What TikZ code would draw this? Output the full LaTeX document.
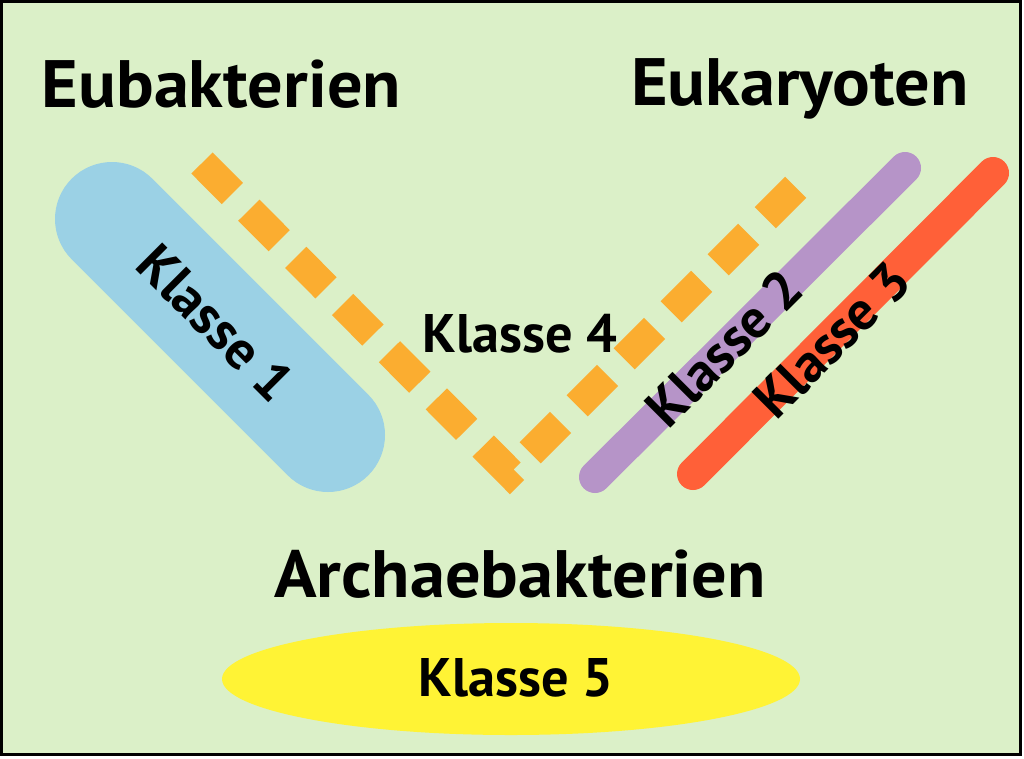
\documentclass[tikz,border=0pt]{standalone}
\usepackage{fontspec}
\setmainfont{PT Sans}
\definecolor{bg}{RGB}{219,240,200}
\definecolor{cblue}{RGB}{155,209,229}
\definecolor{corange}{RGB}{251,173,48}
\definecolor{cpurple}{RGB}{182,148,200}
\definecolor{cred}{RGB}{255,96,56}
\definecolor{cyellow}{RGB}{255,243,53}
\begin{document}
\begin{tikzpicture}[x=1pt,y=-1pt,
  title/.style={font=\fontsize{67}{72}\selectfont\bfseries, inner sep=0pt, anchor=base, xscale=1.05},
  klasse/.style={font=\fontsize{54.3}{60}\selectfont\bfseries, inner sep=0pt},
  band/.style={line cap=round, line width=32}]
\useasboundingbox (0,0) rectangle (1024,758);
\fill[white] (0,0) rectangle (1024,758);
\draw[line width=3, fill=bg] (1.5,1.5) rectangle (1020.5,754.5);
% Klasse 5 ellipse
\fill[cyellow] (511,679) ellipse [x radius=289, y radius=56];
% Klasse 1 capsule
\coordinate (k1a) at (112,219);
\coordinate (k1b) at (328,435);
\draw[cblue, line cap=round, line width=114] (k1a) -- (k1b);
% Klasse 4 dashed V
\coordinate (k4a) at (202,163);
\coordinate (k4c) at (510,473);
\coordinate (k4b) at (797,186);
\draw[corange, line width=30, dash pattern=on 43 off 23.5, line join=miter] (k4a) -- (k4c) -- (k4b);
% Klasse 2 and 3 bands
\coordinate (k2a) at (595,477);
\coordinate (k2b) at (905,168);
\draw[band, cpurple] (k2a) -- (k2b);
\coordinate (k3a) at (693,474);
\coordinate (k3b) at (993,173);
\draw[band, cred] (k3a) -- (k3b);
% titles
\node[title] (eub) at (221.5,107) {Eubakterien};
\node[title] (euk) at (800,105) {Eukaryoten};
\node[title] (arc) at (520,597) {Archaebakterien};
% class labels
\node[klasse, rotate=-45] (l1) at (216,323) {Klasse 1};
\node[klasse, rotate=45] (l2) at (724,348) {Klasse 2};
\node[klasse, rotate=45] (l3) at (832,340) {Klasse 3};
\node[klasse, anchor=base] (l4) at (520,352) {Klasse 4};
\node[klasse, anchor=base] (l5) at (516,696) {Klasse 5};
\end{tikzpicture}
\end{document}
